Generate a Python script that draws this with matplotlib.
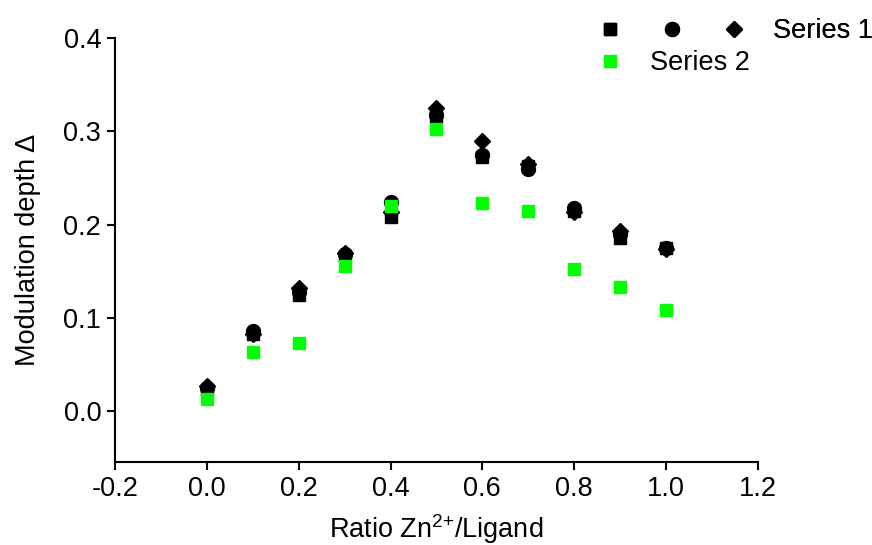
import matplotlib
matplotlib.use("Agg")
import matplotlib.pyplot as plt
from matplotlib.lines import Line2D
from matplotlib.legend_handler import HandlerTuple

plt.rcParams['font.family'] = ['Liberation Sans', 'DejaVu Sans']
plt.rcParams['font.size'] = 19.5
plt.rcParams['mathtext.default'] = 'regular'

# Datos
ratio = [0.0, 0.1, 0.2, 0.3, 0.4, 0.5, 0.6, 0.7, 0.8, 0.9, 1.0]
serie1_cuadrado = [0.022, 0.082, 0.124, 0.166, 0.208, 0.315, 0.272, 0.263, 0.215, 0.186, 0.175]
serie1_circulo  = [0.025, 0.086, 0.128, 0.168, 0.224, 0.318, 0.275, 0.260, 0.218, 0.190, 0.175]
serie1_diamante = [0.027, 0.082, 0.132, 0.169, 0.213, 0.325, 0.290, 0.265, 0.213, 0.193, 0.174]
serie2 = [0.013, 0.063, 0.073, 0.155, 0.220, 0.303, 0.223, 0.214, 0.152, 0.133, 0.108]

xticks = [-0.2, 0.0, 0.2, 0.4, 0.6, 0.8, 1.0, 1.2]
yticks = [0.0, 0.1, 0.2, 0.3, 0.4]

fig = plt.figure(figsize=(8.72, 5.45), dpi=100)
ax = fig.add_axes([0.132, 0.152, 0.737, 0.778])

ax.plot(ratio, serie1_cuadrado, "ks", ms=8.5, ls="none")
ax.plot(ratio, serie1_circulo, "ko", ms=10, ls="none")
ax.plot(ratio, serie1_diamante, "kD", ms=8.5, ls="none")
ax.plot(ratio, serie2, "s", color="#00ff00", ms=8.5, ls="none")

ax.set_xlim(-0.2, 1.2)
ax.set_ylim(-0.055, 0.4)
ax.set_xticks(xticks)
ax.set_xticklabels(["%.1f" % v for v in xticks])
ax.set_yticks(yticks)
ax.set_yticklabels(["%.1f" % v for v in yticks])
ax.spines["top"].set_visible(False)
ax.spines["right"].set_visible(False)
ax.spines["left"].set_bounds(-0.055, 0.4)
for s in ["left", "bottom"]:
    ax.spines[s].set_linewidth(1.5)
ax.tick_params(direction="out", length=6, width=1.5, pad=4)
ax.set_xlabel("Ratio Zn$^{2{+}}$/Ligand", labelpad=7)
ax.set_ylabel("Modulation depth \u0394", labelpad=16)

# Leyendas
h_sq = Line2D([], [], marker="s", color="k", ls="none", ms=8.5)
h_ci = Line2D([], [], marker="o", color="k", ls="none", ms=10)
h_di = Line2D([], [], marker="D", color="k", ls="none", ms=8.5)
h_g = Line2D([], [], marker="s", color="#00ff00", ls="none", ms=8.5)

em = 19.5 * 100 / 72
leg1 = fig.legend([(h_sq, h_ci, h_di)], ["Series 1"],
                  handler_map={tuple: HandlerTuple(ndivide=None, pad=0)},
                  loc="upper left", bbox_to_anchor=(0.664, 0.967),
                  frameon=False, borderpad=0, borderaxespad=0,
                  handlelength=186 / em, handletextpad=0.3)
leg2 = fig.legend([h_g], ["Series 2"],
                  loc="upper left", bbox_to_anchor=(0.664, 0.908),
                  frameon=False, borderpad=0, borderaxespad=0,
                  handlelength=62 / em, handletextpad=0.35)
fig.add_artist(leg1)

fig.savefig("out.png", dpi=100)
